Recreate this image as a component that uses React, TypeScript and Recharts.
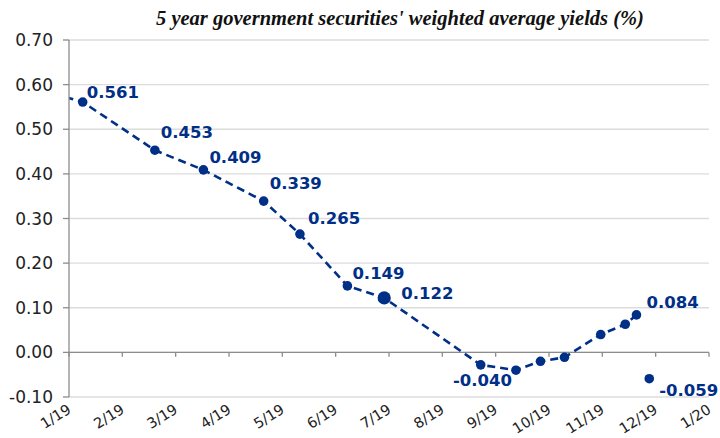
import React from "react";
import {
    LineChart,
    Line,
    XAxis,
    YAxis,
    CartesianGrid,
    ReferenceLine,
    LabelList,
} from "recharts";

// months since 1/19 (fractional) and yields (%)
const monthPos = [-0.3, 0.257, 1.61, 2.52, 3.65, 4.33, 5.22, 5.91, 7.72, 8.38, 8.84, 9.29, 9.97, 10.43, 10.64, 10.76, 10.88];
const yields: (number | null)[] = [0.58, 0.561, 0.453, 0.409, 0.339, 0.265, 0.149, 0.122, -0.028, -0.04, -0.02, -0.011, 0.04, 0.063, 0.084, null, -0.059];
const labelled = [1, 2, 3, 4, 5, 6, 7, 9, 14, 16];
const monthLabels = ["1/19", "2/19", "3/19", "4/19", "5/19", "6/19", "7/19", "8/19", "9/19", "10/19", "11/19", "12/19", "1/20"];
const yTicks = [-0.1, 0, 0.1, 0.2, 0.3, 0.4, 0.5, 0.6, 0.7];

const NAVY = "#002f87";
const AXIS = "#8c8c8c";

// label placement relative to the dot: [dx, dy, anchor]
const labelOffset: Record<number, [number, number, "start" | "end"]> = {
    1: [4, -4, "start"],
    2: [6, -12, "start"],
    3: [6, -7, "start"],
    4: [6, -12, "start"],
    5: [8, -10, "start"],
    6: [5, -7, "start"],
    7: [17, 1, "start"],
    9: [-4, 16, "end"],
    14: [10, -7, "start"],
    16: [10, 17, "start"],
};

const data = monthPos.map((m, i) => ({ m, y: yields[i], idx: i }));

function Dot(props: any) {
    const { cx, cy, payload } = props;
    if (payload.y == null || cx == null) return null;
    const r = payload.idx === 7 ? 6.6 : 4.8;
    return <circle key={payload.idx} cx={cx} cy={cy} r={r} fill={NAVY} stroke="none" />;
}

function PointLabel(props: any) {
    const { x, y, value, index } = props;
    const off = labelOffset[index];
    if (!off || !labelled.includes(index) || value == null) return null;
    return (
        <text
            x={x + off[0]}
            y={y + off[1]}
            textAnchor={off[2]}
            fill={NAVY}
            fontFamily="DejaVu Sans, Verdana, sans-serif"
            fontWeight="bold"
            fontSize={16.5}
        >
            {value.toFixed(3)}
        </text>
    );
}

function MonthTick(props: any) {
    const { x, payload } = props;
    const tx = x + 3;
    const ty = 412;
    return (
        <text
            x={tx}
            y={ty}
            transform={`rotate(-32, ${tx}, ${ty})`}
            textAnchor="end"
            fill="#222"
            fontFamily="DejaVu Sans, Verdana, sans-serif"
            fontSize={14.5}
        >
            {monthLabels[payload.value]}
        </text>
    );
}

export default function App() {
    return (
        <div style={{ position: "absolute", left: 0, top: 0, width: 720, height: 438, background: "#fff" }}>
            <div
                style={{
                    position: "absolute",
                    left: 100,
                    width: 600,
                    top: 7,
                    textAlign: "center",
                    fontFamily: "Liberation Serif, Times New Roman, serif",
                    fontWeight: "bold",
                    fontStyle: "italic",
                    fontSize: 20.5,
                    color: "#111",
                }}
            >
                5 year government securities' weighted average yields (%)
            </div>
            <LineChart
                width={720}
                height={438}
                data={data}
                margin={{ top: 40, right: 11, bottom: 0, left: 0 }}
            >
                <CartesianGrid horizontal vertical={false} stroke="#dcdcdc" strokeWidth={1.3} />
                <XAxis
                    dataKey="m"
                    type="number"
                    domain={[0, 12]}
                    ticks={[0, 1, 2, 3, 4, 5, 6, 7, 8, 9, 10, 11, 12]}
                    allowDataOverflow
                    height={41}
                    axisLine={false}
                    tickLine={false}
                    tick={<MonthTick />}
                    interval={0}
                />
                <YAxis
                    type="number"
                    domain={[-0.1, 0.7]}
                    ticks={yTicks}
                    width={69}
                    tickFormatter={(v: number) => v.toFixed(2)}
                    tick={{ fill: "#222", fontSize: 17, fontFamily: "DejaVu Sans, Verdana, sans-serif" }}
                    axisLine={{ stroke: AXIS, strokeWidth: 1.3 }}
                    tickLine={{ stroke: AXIS, strokeWidth: 1.3 }}
                    tickSize={6}
                    tickMargin={10}
                    interval={0}
                />
                <ReferenceLine y={0} stroke={AXIS} strokeWidth={1.3} />
                {monthLabels.map((_, i) => (
                    <ReferenceLine
                        key={i}
                        segment={[{ x: i, y: 0 }, { x: i, y: -0.01 }]}
                        stroke={AXIS}
                        strokeWidth={1.3}
                    />
                ))}
                <Line
                    type="linear"
                    dataKey="y"
                    stroke={NAVY}
                    strokeWidth={2.6}
                    strokeDasharray="8 5"
                    dot={<Dot />}
                    activeDot={false}
                    isAnimationActive={false}
                    connectNulls={false}
                >
                    <LabelList dataKey="y" content={<PointLabel />} />
                </Line>
            </LineChart>
        </div>
    );
}
